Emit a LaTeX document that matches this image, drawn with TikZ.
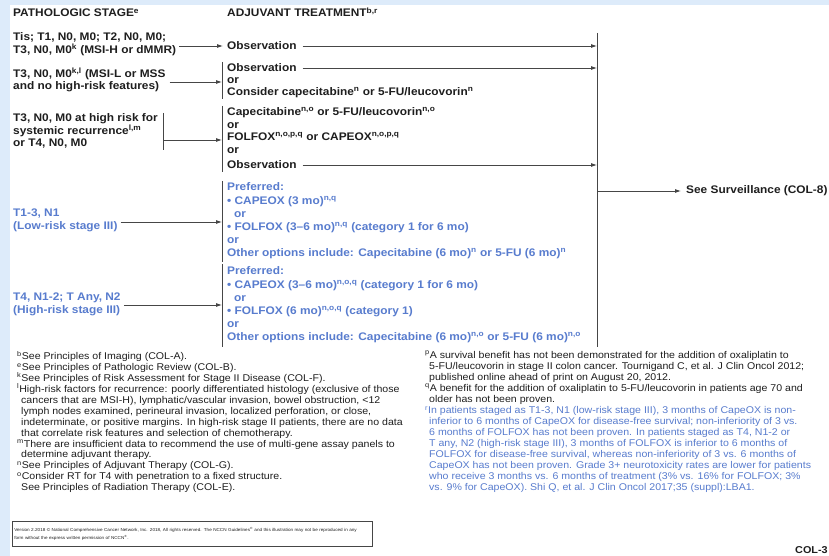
\documentclass[tikz,border=0pt]{standalone}
\usepackage{fontspec}
\setmainfont{Liberation Sans}[FakeStretch=1.08]
\usetikzlibrary{arrows.meta}
\definecolor{bgblue}{RGB}{221,235,250}
\definecolor{nblue}{RGB}{88,124,206}
\definecolor{ink}{RGB}{30,30,30}
\definecolor{rule}{RGB}{70,70,70}
\newcommand{\sps}{\textsuperscript}

\begin{document}
\begin{tikzpicture}[x=1pt,y=-1pt,
	>={Latex[length=6pt,width=4pt]},
	head/.style={anchor=base west,inner sep=0pt,text=ink,font=\bfseries\fontsize{11}{12}\selectfont},
	stage/.style={anchor=west,align=left,inner sep=0pt,text=ink,font=\bfseries\fontsize{11}{12.5}\selectfont},
	bluestage/.style={stage,text=nblue,font=\bfseries\fontsize{11}{13.2}\selectfont},
	note/.style={anchor=north west,align=left,inner sep=0pt,text=ink,font=\fontsize{9.8}{10.9}\selectfont},
	link/.style={draw=rule,line width=0.8pt}]
	% page frame
	\fill[bgblue] (0,0) rectangle (829,556);
	\fill[white] (10,5) rectangle (829,556);
	\useasboundingbox (0,0) rectangle (829,556);

	% column heads
	\node[head] (hstage) at (13,17) {PATHOLOGIC STAGE\sps{e}};
	\node[head] (htreat) at (227,17) {ADJUVANT TREATMENT\sps{b,r}};

	% bracket ends and the collecting line
	\coordinate (b2t) at (222,62);  \coordinate (b2b) at (222,99);
	\coordinate (b3t) at (222,106); \coordinate (b3b) at (222,172);
	\coordinate (b4t) at (222,181); \coordinate (b4b) at (222,262);
	\coordinate (b5t) at (222,264); \coordinate (b5b) at (222,347);
	\coordinate (k3t) at (163,113); \coordinate (k3b) at (163,150);
	\coordinate (colR) at (597,33); \coordinate (colRb) at (597,347);

	% stages
	\node[stage] (s1) at (13,44) {Tis; T1, N0, M0; T2, N0, M0;\\T3, N0, M0\sps{k} (MSI-H or dMMR)};
	\node[stage] (s2) at (13,80) {T3, N0, M0\sps{k,l} (MSI-L or MSS\\and no high-risk features)};
	\node[stage] (s3) at (13,131) {T3, N0, M0 at high risk for\\systemic recurrence\sps{l,m}\\or T4, N0, M0};
	\node[bluestage] (s4) at (13,220) {T1-3, N1\\(Low-risk stage III)};
	\node[bluestage] (s5) at (13,304) {T4, N1-2; T Any, N2\\(High-risk stage III)};

	% treatments
	\node[stage] (obs1) at (227,46) {Observation};
	\node[stage] (obs2) at (227,68) {Observation};
	\node[stage] (opt2) at (227,87.5) {or\\Consider capecitabine\sps{n} or 5-FU/leucovorin\sps{n}};
	\node[stage] (opt3) at (227,130.5) {Capecitabine\sps{n,o} or 5-FU/leucovorin\sps{n,o}\\or\\FOLFOX\sps{n,o,p,q} or CAPEOX\sps{n,o,p,q}\\or};
	\node[stage] (obs3) at (227,165) {Observation};
	\node[bluestage] (opt4) at (227,221) {Preferred:\\• CAPEOX (3 mo)\sps{n,q}\\\hspace*{7pt}or\\• FOLFOX (3–6 mo)\sps{n,q} (category 1 for 6 mo)\\or\\Other options include: Capecitabine (6 mo)\sps{n} or 5-FU (6 mo)\sps{n}};
	\node[bluestage] (opt5) at (227,305) {Preferred:\\• CAPEOX (3–6 mo)\sps{n,o,q} (category 1 for 6 mo)\\\hspace*{7pt}or\\• FOLFOX (6 mo)\sps{n,o,q} (category 1)\\or\\Other options include: Capecitabine (6 mo)\sps{n,o} or 5-FU (6 mo)\sps{n,o}};
	\node[stage] (surv) at (686,191) {See Surveillance (COL-8)};

	% brackets
	\draw[link] (b2t) -- (b2b);
	\draw[link] (b3t) -- (b3b);
	\draw[link] (b4t) -- (b4b);
	\draw[link] (b5t) -- (b5b);
	\draw[link] (k3t) -- (k3b);
	\draw[link] (colR) -- (colRb);

	% arrows into the treatments
	\draw[link,->,shorten <=3pt,shorten >=4pt] (s1.east |- obs1.west) -- (obs1.west);
	\draw[link,->,shorten <=4pt] (s2.east |- 0,82) -- (b2t |- 0,82);
	\draw[link,->] (k3t |- 0,140) -- (b3t |- 0,140);
	\draw[link,->,shorten <=3pt] (s4.east |- 0,222) -- (b4t |- 0,222);
	\draw[link,->,shorten <=3pt] (s5.east |- 0,305) -- (b5t |- 0,305);

	% arrows to follow-up
	\draw[link,->,shorten <=6pt] (obs1.east) -- (obs1.east -| colR);
	\draw[link,->,shorten <=6pt] (obs2.east) -- (obs2.east -| colR);
	\draw[link,->,shorten <=6pt] (obs3.east) -- (obs3.east -| colR);
	\draw[link,->,shorten >=5pt] (surv.west -| colR) -- (surv.west);

	% footnotes
	\node[note] (fnl) at (17,351) {\sps{b}See Principles of Imaging (COL-A).\\
		\sps{e}See Principles of Pathologic Review (COL-B).\\
		\sps{k}See Principles of Risk Assessment for Stage II Disease (COL-F).\\
		\sps{l}High-risk factors for recurrence: poorly differentiated histology (exclusive of those\\
		\hspace*{4pt}cancers that are MSI-H), lymphatic/vascular invasion, bowel obstruction, <12\\
		\hspace*{4pt}lymph nodes examined, perineural invasion, localized perforation, or close,\\
		\hspace*{4pt}indeterminate, or positive margins. In high-risk stage II patients, there are no data\\
		\hspace*{4pt}that correlate risk features and selection of chemotherapy.\\
		\sps{m}There are insufficient data to recommend the use of multi-gene assay panels to\\
		\hspace*{4pt}determine adjuvant therapy.\\
		\sps{n}See Principles of Adjuvant Therapy (COL-G).\\
		\sps{o}Consider RT for T4 with penetration to a fixed structure.\\
		\hspace*{4pt}See Principles of Radiation Therapy (COL-E).};
	\node[note] (fnpq) at (425,351) {\sps{p}A survival benefit has not been demonstrated for the addition of oxaliplatin to\\
		\hspace*{4pt}5-FU/leucovorin in stage II colon cancer. Tournigand C, et al. J Clin Oncol 2012;\\
		\hspace*{4pt}published online ahead of print on August 20, 2012.\\
		\sps{q}A benefit for the addition of oxaliplatin to 5-FU/leucovorin in patients age 70 and\\
		\hspace*{4pt}older has not been proven.};
	\node[note,text=nblue] (fnr) at ([yshift=-2pt]fnpq.south west) {\sps{r}In patients staged as T1-3, N1 (low-risk stage III), 3 months of CapeOX is non-\\
		\hspace*{4pt}inferior to 6 months of CapeOX for disease-free survival; non-inferiority of 3 vs.\\
		\hspace*{4pt}6 months of FOLFOX has not been proven. In patients staged as T4, N1-2 or\\
		\hspace*{4pt}T any, N2 (high-risk stage III), 3 months of FOLFOX is inferior to 6 months of\\
		\hspace*{4pt}FOLFOX for disease-free survival, whereas non-inferiority of 3 vs. 6 months of\\
		\hspace*{4pt}CapeOX has not been proven. Grade 3+ neurotoxicity rates are lower for patients\\
		\hspace*{4pt}who receive 3 months vs. 6 months of treatment (3\% vs. 16\% for FOLFOX; 3\%\\
		\hspace*{4pt}vs. 9\% for CapeOX). Shi Q, et al. J Clin Oncol 2017;35 (suppl):LBA1.};

	% legal box and page label
	\node[draw=rule,line width=0.6pt,anchor=north west,align=left,text=ink,inner xsep=2pt,inner ysep=3pt,
		text width=356pt,minimum height=25pt,font=\fontsize{4.3}{8.5}\selectfont] (legal) at (12,521)
		{Version 2.2018 © National Comprehensive Cancer Network, Inc. 2018, All rights reserved. The NCCN Guidelines\sps{®} and this illustration may not be reproduced in any\\form without the express written permission of NCCN\sps{®}.};
	\node[head,font=\bfseries\fontsize{10}{11}\selectfont] (page) at (795,553) {COL-3};
\end{tikzpicture}
\end{document}
